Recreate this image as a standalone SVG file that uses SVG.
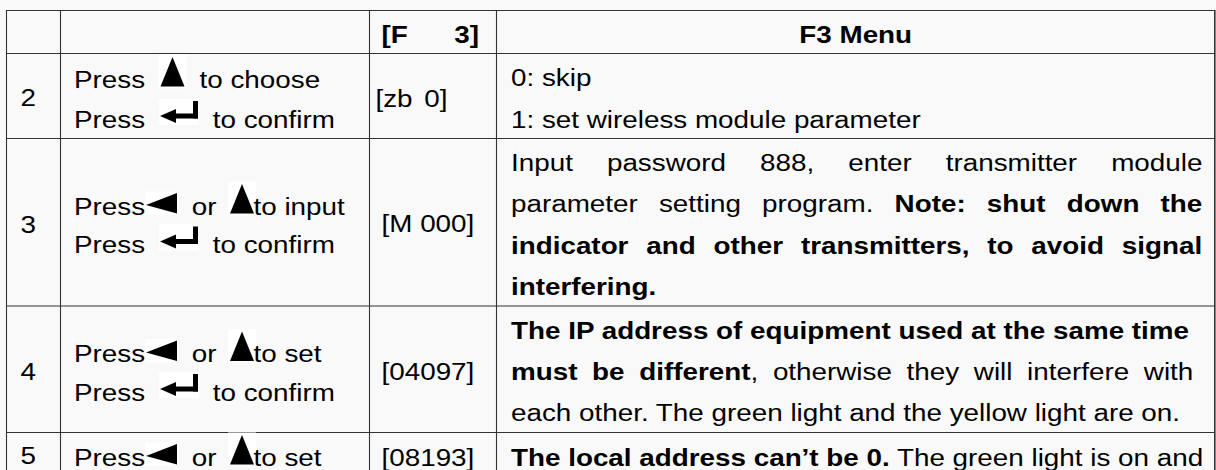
<svg xmlns="http://www.w3.org/2000/svg" width="1216" height="470" viewBox="0 0 1216 470">
<style>
.t{font-family:"Liberation Sans",Arial,Helvetica,sans-serif;font-size:24.5px;fill:#000}
.b{font-weight:bold}
.grid line{stroke:#333;stroke-width:1.1}
.wb{fill:#fff}
.ic{fill:#000}
</style>
<defs>
<g id="up"><rect class="wb" x="-2" y="-33.5" width="28" height="34"/><polygon class="ic" points="12,-31 0,-1.5 24,-1.5"/></g>
<g id="left"><rect class="wb" x="-1" y="-23.5" width="33" height="23.5"/><polygon class="ic" points="0,-10 31,-22 31,-1.5"/></g>
<g id="enter"><rect class="wb" x="-1" y="-29" width="40" height="26"/><polygon class="ic" points="0,-12 16,-19 16,-5"/><rect class="ic" x="15" y="-14.5" width="23" height="5"/><rect class="ic" x="33" y="-27" width="5" height="17.5"/></g>
</defs>
<rect x="0" y="0" width="1216" height="470" fill="#f8f9f8"/>
<g id="grid" class="grid">
<line x1="6.5" y1="10.5" x2="1215" y2="10.5"/>
<line x1="6.5" y1="53.5" x2="1215" y2="53.5"/>
<line x1="6.5" y1="138.5" x2="1215" y2="138.5"/>
<line x1="6.5" y1="306" x2="1215" y2="306"/>
<line x1="6.5" y1="432.5" x2="1215" y2="432.5"/>
<line x1="6.5" y1="10" x2="6.5" y2="470"/>
<line x1="60.5" y1="10" x2="60.5" y2="470"/>
<line x1="369.5" y1="10" x2="369.5" y2="470"/>
<line x1="496.5" y1="10" x2="496.5" y2="470"/>
<line x1="1214.8" y1="10" x2="1214.8" y2="470" style="stroke-width:1.6"/>
</g>
<g id="icons">
<use href="#up" x="160.5" y="88"/>
<use href="#enter" x="160" y="128"/>
<use href="#left" x="146" y="215"/>
<use href="#up" x="230" y="215"/>
<use href="#enter" x="160" y="253.5"/>
<use href="#left" x="146" y="362.5"/>
<use href="#up" x="230" y="362.5"/>
<use href="#enter" x="160" y="401"/>
<use href="#left" x="146" y="466"/>
<use href="#up" x="230" y="466"/>
</g>
<g transform="scale(1.136,1)">
<g id="header">
<text class="t b" x="335.83" y="43.5" word-spacing="34.1">[F 3]</text>
<text class="t b" x="753.26" y="43.5" text-anchor="middle">F3 Menu</text>
</g>
<g id="row2">
<text class="t" x="18.05" y="106.5">2</text>
<text class="t" x="65.14" y="88">Press</text>
<text class="t" x="175.62" y="88">to choose</text>
<text class="t" x="65.14" y="128">Press</text>
<text class="t" x="187.32" y="128">to confirm</text>
<text class="t" x="330.5" y="107" word-spacing="3.5">[zb 0]</text>
<text class="t" x="449.82" y="86">0: skip</text>
<text class="t" x="449.82" y="128">1: set wireless module parameter</text>
</g>
<g id="row3">
<text class="t" x="18.05" y="233.5">3</text>
<text class="t" x="65.14" y="215">Press</text>
<text class="t" x="168.75" y="215">or</text>
<text class="t" x="223.15" y="215">to input</text>
<text class="t" x="65.14" y="253.5">Press</text>
<text class="t" x="187.32" y="253.5">to confirm</text>
<text class="t" x="335.83" y="232">[M 000]</text>
<text class="t" x="449.82" y="171" word-spacing="23.19">Input password 888, enter transmitter module</text>
<text class="t" x="449.82" y="212.5" word-spacing="11.85">parameter setting program. <tspan class="b">Note: shut down the</tspan></text>
<text class="t b" x="449.82" y="254" word-spacing="8.89">indicator and other transmitters, to avoid signal</text>
<text class="t b" x="449.82" y="295">interfering.</text>
</g>
<g id="row4">
<text class="t" x="18.05" y="380">4</text>
<text class="t" x="65.14" y="362.5">Press</text>
<text class="t" x="168.75" y="362.5">or</text>
<text class="t" x="223.15" y="362.5">to set</text>
<text class="t" x="65.14" y="401">Press</text>
<text class="t" x="187.32" y="401">to confirm</text>
<text class="t" x="335.83" y="380">[04097]</text>
<text class="t b" x="449.82" y="339">The IP address of equipment used at the same time</text>
<text class="t" x="449.82" y="380" word-spacing="6.1"><tspan class="b">must be different</tspan>, otherwise they will interfere with</text>
<text class="t" x="449.82" y="421">each other. The green light and the yellow light are on.</text>
</g>
<g id="row5">
<text class="t" x="18.05" y="464.5">5</text>
<text class="t" x="65.14" y="466">Press</text>
<text class="t" x="168.75" y="466">or</text>
<text class="t" x="223.15" y="466">to set</text>
<text class="t" x="335.83" y="466">[08193]</text>
<text class="t" x="449.82" y="466"><tspan class="b">The local address can’t be 0.</tspan> The green light is on and</text>
</g>
</g>
</svg>
